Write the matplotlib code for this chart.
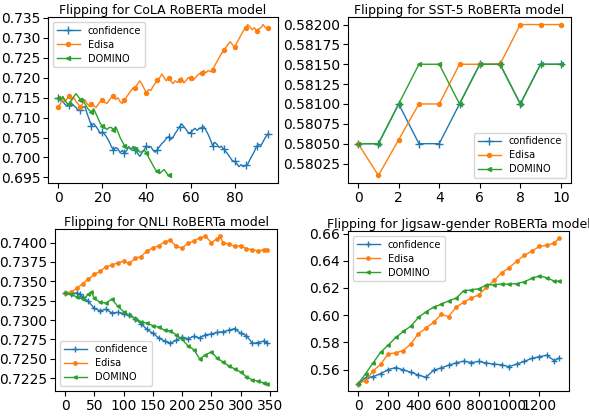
import matplotlib
matplotlib.use("Agg")
import matplotlib.pyplot as plt

labels = ["confidence", "Edisa", "DOMINO"]

# CoLA
cola_conf = [.7148, .7143, .7140, .7133, .7128, .7132, .7135, .7130, .7125, .7118, .7120, .7125, .7128, .7110, .7095,
             .7079, .7085, .7078, .7070, .7060, .7064, .7058, .7050, .7040, .7028, .7018, .7025, .7022, .7012, .7018,
             .7010, .7018, .7027, .7020, .7025, .7018, .7010, .7003, .7012, .7020, .7029, .7025, .7027, .7018, .7013,
             .7020, .7028, .7035, .7040, .7048, .7052, .7045, .7050, .7060, .7068, .7077, .7084, .7077, .7070, .7062,
             .7062, .7068, .7073, .7068, .7073, .7075, .7078, .7068, .7058, .7045, .7030, .7038, .7033, .7025, .7028,
             .7022, .7015, .7008, .7000, .6992, .6990, .6985, .6977, .6982, .6977, .6980, .6983, .6995, .7005, .7015,
             .7028, .7033, .7030, .7040, .7050, .7058]
cola_edisa = [.7126, .7136, .7148, .7140, .7148, .7153, .7143, .7150, .7140, .7133, .7126, .7135, .7145, .7135, .7128,
              .7135, .7130, .7125, .7133, .7140, .7145, .7138, .7135, .7143, .7150, .7153, .7145, .7150, .7140, .7135,
              .7144, .7152, .7160, .7168, .7175, .7175, .7185, .7192, .7183, .7172, .7162, .7170, .7168, .7178, .7186,
              .7193, .7200, .7209, .7200, .7192, .7200, .7192, .7185, .7192, .7188, .7193, .7200, .7187, .7193, .7200,
              .7200, .7193, .7198, .7205, .7210, .7211, .7218, .7212, .7218, .7215, .7219, .7230, .7240, .7250, .7260,
              .7268, .7275, .7283, .7290, .7283, .7276, .7287, .7297, .7307, .7317, .7325, .7333, .7327, .7320, .7325,
              .7317, .7322, .7325, .7333, .7325, .7325]
cola_domino = [.7148, .7145, .7153, .7143, .7135, .7135, .7145, .7153, .7160, .7152, .7145, .7148, .7135, .7125, .7118,
               .7115, .7122, .7110, .7098, .7085, .7080, .7075, .7070, .7075, .7075, .7070, .7077, .7065, .7050, .7040,
               .7030, .7025, .7025, .7020, .7028, .7022, .7020, .7013, .7015, .7018, .7012, .7000, .6990, .6980, .6970,
               .6965, .6960, .6965, .6970, .6962, .6955]

# SST-5
sst_x = [0, 1, 2, 3, 4, 5, 6, 7, 8, 9, 10]
sst_conf = [0.5805, 0.5805, 0.5810, 0.5805, 0.5805, 0.5810, 0.5815, 0.5815, 0.5810, 0.5815, 0.5815]
sst_edisa = [0.5805, 0.5801, 0.58055, 0.5810, 0.5810, 0.5815, 0.5815, 0.5815, 0.5820, 0.5820, 0.5820]
sst_domino = [0.5805, 0.5805, 0.5810, 0.5815, 0.5815, 0.5810, 0.5815, 0.5815, 0.5810, 0.5815, 0.5815]

# QNLI
qnli_x_e = [0, 10, 20, 30, 40, 50, 60, 70, 80, 90, 100, 110, 120, 130, 140, 150, 160, 170, 180, 190, 200,
            210, 220, 230, 240, 250, 260, 265, 270, 280, 290, 300, 310, 320, 330, 340, 345]
qnli_edisa = [.7335, .7336, .7341, .7347, .7353, .7359, .7363, .7369, .7371, .7374, .7376, .7373, .7380, .7382,
              .7389, .7393, .7396, .7401, .7403, .7395, .7393, .7399, .7402, .7406, .7408, .7400, .7405, .7408,
              .7400, .7398, .7395, .7396, .7392, .7391, .7389, .7391, .7391]
qnli_x_c = [0, 10, 20, 25, 30, 40, 50, 60, 70, 80, 90, 100, 110, 120, 130, 140, 150, 160, 170, 180, 190, 200,
            210, 220, 230, 240, 250, 260, 270, 280, 290, 300, 310, 320, 330, 340, 345]
qnli_conf = [.7335, .7334, .7335, .7333, .7330, .7324, .7315, .7312, .7314, .7309, .7310, .7308, .7306, .7302,
             .7295, .7288, .7283, .7277, .7273, .7270, .7274, .7278, .7276, .7279, .7277, .7281, .7282, .7284,
             .7285, .7287, .7289, .7283, .7280, .7270, .7271, .7273, .7271]
qnli_x_d = [0, 10, 20, 30, 40, 45, 50, 60, 70, 80, 90, 100, 110, 120, 130, 140, 150, 160, 170, 180, 190, 200,
            210, 220, 230, 240, 250, 260, 270, 280, 290, 300, 310, 320, 330, 340, 345]
qnli_domino = [.7335, .7333, .7330, .7327, .7333, .7336, .7328, .7323, .7322, .7327, .7318, .7311, .7306, .7302,
               .7298, .7296, .7293, .7291, .7287, .7286, .7281, .7275, .7267, .7262, .7250, .7255, .7259, .7251,
               .7246, .7241, .7237, .7233, .7227, .7223, .7221, .7219, .7218]

# Jigsaw-gender
jig_x = [0, 50, 100, 150, 200, 250, 300, 350, 400, 450, 500, 550, 600, 650, 700, 750, 800, 850, 900, 950,
         1000, 1050, 1100, 1150, 1200, 1250, 1300, 1330]
jig_conf = [.5496, .5540, .5548, .5570, .5600, .5615, .5598, .5580, .5560, .5543, .5595, .5612, .5632, .5650,
            .5662, .5652, .5660, .5648, .5640, .5635, .5622, .5640, .5660, .5682, .5695, .5705, .5665, .5685]
jig_edisa = [.5496, .5519, .5590, .5640, .5715, .5723, .5740, .5790, .5865, .5905, .5948, .6005, .5990, .6060,
             .6095, .6125, .6150, .6205, .6255, .6310, .6350, .6395, .6440, .6470, .6505, .6514, .6530, .6565]
jig_domino = [.5496, .5570, .5650, .5728, .5780, .5836, .5880, .5920, .5983, .6025, .6058, .6080, .6105, .6125,
              .6180, .6185, .6195, .6222, .6225, .6228, .6228, .6232, .6245, .6270, .6288, .6275, .6250, .6250]

W, H = 589, 416
fig = plt.figure(figsize=(W / 100, H / 100), dpi=100)

def add_ax(l, r, t, b):
    return fig.add_axes([l / W, 1 - b / H, (r - l) / W, (b - t) / H])

ax1 = add_ax(48, 278, 17, 183)
ax2 = add_ax(348, 571, 17, 183)
ax3 = add_ax(55, 277, 229, 391)
ax4 = add_ax(348, 569, 231, 391)

colors = ["#1f77b4", "#ff7f0e", "#2ca02c"]
markers = ["+", "o", "<"]

def draw(ax, xs, ys, title, loc, me=None, scale=1.0):
    msizes = [6 * scale, 3.2 * scale, 3.2 * scale]
    for i in range(3):
        ax.plot(xs[i], ys[i], color=colors[i], marker=markers[i], ms=msizes[i],
                lw=1.0, markevery=me, label=labels[i])
    ax.set_title(title, fontsize=9, pad=2)
    ax.tick_params(labelsize=10, length=3.5, width=0.8, pad=2)
    ax.legend(loc=loc, fontsize=7, handlelength=2.4, borderpad=0.4, labelspacing=0.4)

cx = list(range(len(cola_conf)))
dx = list(range(len(cola_domino)))
draw(ax1, [cx, cx, dx], [cola_conf, cola_edisa, cola_domino], "Flipping for CoLA RoBERTa model", "upper left",
     me=5, scale=0.9)
ax1.set_xticks([0, 20, 40, 60, 80])
ax1.set_yticks([0.695, 0.700, 0.705, 0.710, 0.715, 0.720, 0.725, 0.730, 0.735])

draw(ax2, [sst_x] * 3, [sst_conf, sst_edisa, sst_domino], "Flipping for SST-5 RoBERTa model", "lower right",
     scale=0.9)
ax2.set_xticks([0, 2, 4, 6, 8, 10])
ax2.set_yticks([0.58025, 0.58050, 0.58075, 0.58100, 0.58125, 0.58150, 0.58175, 0.58200])
ax2.yaxis.set_major_formatter(matplotlib.ticker.FormatStrFormatter("%.5f"))

draw(ax3, [qnli_x_c, qnli_x_e, qnli_x_d], [qnli_conf, qnli_edisa, qnli_domino],
     "Flipping for QNLI RoBERTa model", "lower left", scale=0.75)
ax3.set_xticks([0, 50, 100, 150, 200, 250, 300, 350])
ax3.set_yticks([0.7225, 0.7250, 0.7275, 0.7300, 0.7325, 0.7350, 0.7375, 0.7400])
ax3.yaxis.set_major_formatter(matplotlib.ticker.FormatStrFormatter("%.4f"))

draw(ax4, [jig_x] * 3, [jig_conf, jig_edisa, jig_domino], "Flipping for Jigsaw-gender RoBERTa model", "upper left",
     scale=0.75)
ax4.set_xticks([0, 200, 400, 600, 800, 1000, 1200])
ax4.set_yticks([0.56, 0.58, 0.60, 0.62, 0.64, 0.66])

fig.savefig("out.png", dpi=100)
